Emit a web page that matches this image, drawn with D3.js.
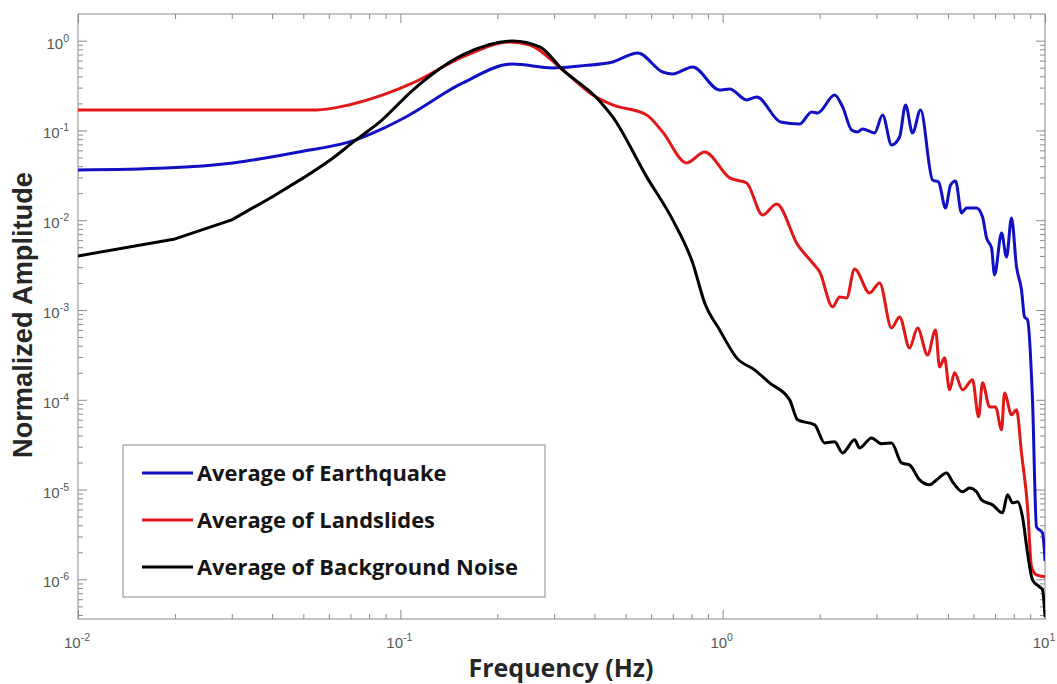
<!DOCTYPE html>
<html>
<head>
<meta charset="utf-8">
<script src="https://cdn.jsdelivr.net/npm/d3@7"></script>
<style>
  html, body { margin: 0; padding: 0; background: #fff; }
  svg { display: block; }
</style>
</head>
<body>
<svg id="chart" width="1057" height="684"></svg>
<script>
// Average normalized amplitude spectra (frequency in Hz, amplitude normalized)
const blueFreq = [0.01, 0.01875, 0.03024, 0.0484, 0.0728, 0.0864, 0.104, 0.1562, 0.2233, 0.2971, 0.3602, 0.4559, 0.545, 0.6516, 0.6998, 0.8072, 0.9788, 1.051, 1.187, 1.275, 1.513, 1.734, 1.888, 1.971, 2.225, 2.356, 2.512, 2.622, 2.718, 2.96, 3.134, 3.342, 3.539, 3.693, 3.882, 4.111, 4.479, 4.675, 4.914, 5.093, 5.278, 5.51, 5.71, 6.132, 6.401, 6.587, 6.826, 6.974, 7.331, 7.597, 7.873, 8.159, 8.455, 8.638, 8.826, 9.146, 9.41, 9.822, 10];
const blueAmp = [0.0363, 0.0382, 0.0435, 0.0576, 0.0784, 0.1013, 0.1413, 0.338, 0.55, 0.497, 0.523, 0.579, 0.73, 0.448, 0.426, 0.51, 0.282, 0.29, 0.2186, 0.236, 0.1244, 0.1181, 0.1607, 0.1566, 0.2485, 0.1827, 0.1013, 0.0962, 0.1039, 0.0938, 0.1488, 0.0689, 0.0846, 0.1923, 0.0938, 0.1691, 0.0281, 0.0267, 0.0137, 0.0247, 0.0274, 0.01206, 0.0137, 0.0137, 0.01088, 0.00635, 0.00491, 0.00246, 0.00722, 0.0039, 0.01061, 0.00302, 0.00167, 0.000838, 0.000776, 0.0000997, 0.00000384, 0.00000329, 0.00000165];

const redFreq = [0.01, 0.03, 0.0547, 0.0692, 0.0883, 0.1094, 0.1562, 0.2186, 0.2521, 0.3191, 0.3953, 0.4559, 0.5811, 0.6516, 0.7734, 0.8795, 1.051, 1.187, 1.33, 1.47, 1.709, 1.902, 1.999, 2.193, 2.306, 2.424, 2.566, 2.856, 3.068, 3.342, 3.539, 3.8, 4.024, 4.322, 4.575, 4.708, 4.879, 5.057, 5.24, 5.549, 5.96, 6.221, 6.401, 6.73, 7.024, 7.331, 7.489, 7.873, 8.159, 8.455, 8.826, 9.081, 9.41, 10];
const redAmp = [0.1691, 0.1691, 0.1691, 0.1923, 0.2485, 0.338, 0.658, 0.967, 0.896, 0.4719, 0.2485, 0.1923, 0.1488, 0.0962, 0.0435, 0.0576, 0.0296, 0.026, 0.01146, 0.01519, 0.00531, 0.00334, 0.00266, 0.001083, 0.001399, 0.001364, 0.00287, 0.00155, 0.002003, 0.000632, 0.000838, 0.000378, 0.000632, 0.000316, 0.0006, 0.000232, 0.000293, 0.0001289, 0.0001994, 0.0001289, 0.0001666, 0.0000645, 0.0001543, 0.0000833, 0.0000833, 0.0000462, 0.0001193, 0.0000679, 0.0000772, 0.0000256, 0.00000642, 0.00000138, 0.00000112, 0.000001066];

const blackFreq = [0.01, 0.02, 0.03, 0.04, 0.05, 0.0606, 0.0728, 0.0864, 0.1094, 0.1562, 0.2233, 0.2708, 0.3191, 0.4068, 0.4559, 0.5811, 0.6998, 0.8072, 0.8795, 0.9788, 1.105, 1.256, 1.398, 1.614, 1.709, 1.929, 2.072, 2.225, 2.356, 2.566, 2.66, 2.897, 3.112, 3.342, 3.589, 3.8, 4.082, 4.385, 4.608, 4.95, 5.166, 5.549, 5.834, 6.132, 6.355, 6.876, 7.383, 7.651, 7.929, 8.217, 8.515, 8.826, 9.146, 9.614, 9.822, 10];
const blackAmp = [0.004, 0.00619, 0.01008, 0.01817, 0.0296, 0.0468, 0.0784, 0.1244, 0.282, 0.693, 0.992, 0.851, 0.472, 0.2301, 0.1413, 0.0304, 0.01008, 0.00334, 0.001199, 0.0006, 0.000293, 0.000215, 0.0001543, 0.0000997, 0.0000597, 0.0000525, 0.0000331, 0.000034, 0.0000256, 0.0000358, 0.0000291, 0.0000376, 0.0000323, 0.0000331, 0.0000198, 0.0000188, 0.0000128, 0.0000113, 0.0000128, 0.0000153, 0.0000122, 0.00000943, 0.0000104, 0.00000943, 0.00000768, 0.00000675, 0.0000055, 0.00000873, 0.00000711, 0.00000729, 0.00000497, 0.00000197, 0.000000987, 0.000000825, 0.000000764, 0.000000392];

const seriesNames = ["Average of Earthquake", "Average of Landslides", "Average of Background Noise"];
const seriesColors = ["#1010c4", "#e01818", "#000000"];

const xTickExponents = [-2, -1, 0, 1];
const yTickExponents = [0, -1, -2, -3, -4, -5, -6];

const xTitle = "Frequency (Hz)";
const yTitle = "Normalized Amplitude";

// ---- layout ----
const svg = d3.select("#chart");
const plotLeft = 78, plotRight = 1045, plotTop = 14, plotBottom = 619;

const x = d3.scaleLog().domain([0.01, 10]).range([plotLeft, plotRight]);
const y = d3.scaleLog().domain([Math.pow(10, -6.442), Math.pow(10, 0.297)]).range([plotBottom, plotTop]);

const frameColor = "#8a8a8a";
const labelColor = "#555";

// minor/major tick values
const xMajor = xTickExponents.map(e => Math.pow(10, e));
const xMinor = [];
for (let e = -2; e < 1; e++) for (let m = 2; m <= 9; m++) xMinor.push(m * Math.pow(10, e));
const yMajor = yTickExponents.map(e => Math.pow(10, e));
const yMinor = [];
for (let e = -7; e <= 0; e++) for (let m = 2; m <= 9; m++) {
  const v = m * Math.pow(10, e);
  if (v >= y.domain()[0] && v <= y.domain()[1]) yMinor.push(v);
}

function styleAxis(g) {
  g.select(".domain").remove();
  g.selectAll(".tick line").attr("stroke", frameColor).attr("stroke-width", 1);
  g.selectAll(".tick text").remove();
}

// ticks pointing inward on all four sides
svg.append("g").attr("transform", `translate(0,${plotBottom})`)
  .call(d3.axisBottom(x).tickValues(xMinor).tickSize(-5).tickFormat("")).call(styleAxis);
svg.append("g").attr("transform", `translate(0,${plotBottom})`)
  .call(d3.axisBottom(x).tickValues(xMajor).tickSize(-9).tickFormat("")).call(styleAxis);
svg.append("g").attr("transform", `translate(0,${plotTop})`)
  .call(d3.axisTop(x).tickValues(xMinor).tickSize(-5).tickFormat("")).call(styleAxis);
svg.append("g").attr("transform", `translate(0,${plotTop})`)
  .call(d3.axisTop(x).tickValues(xMajor).tickSize(-9).tickFormat("")).call(styleAxis);
svg.append("g").attr("transform", `translate(${plotLeft},0)`)
  .call(d3.axisLeft(y).tickValues(yMinor).tickSize(-5).tickFormat("")).call(styleAxis);
svg.append("g").attr("transform", `translate(${plotLeft},0)`)
  .call(d3.axisLeft(y).tickValues(yMajor).tickSize(-9).tickFormat("")).call(styleAxis);
svg.append("g").attr("transform", `translate(${plotRight},0)`)
  .call(d3.axisRight(y).tickValues(yMinor).tickSize(-5).tickFormat("")).call(styleAxis);
svg.append("g").attr("transform", `translate(${plotRight},0)`)
  .call(d3.axisRight(y).tickValues(yMajor).tickSize(-9).tickFormat("")).call(styleAxis);

// frame
svg.append("rect")
  .attr("x", plotLeft).attr("y", plotTop)
  .attr("width", plotRight - plotLeft).attr("height", plotBottom - plotTop)
  .attr("fill", "none").attr("stroke", frameColor).attr("stroke-width", 1);

// power-of-ten tick labels
function powerLabel(sel, exp) {
  sel.append("tspan").text("10");
  sel.append("tspan").attr("dy", -7).attr("font-size", 10.5).text(exp < 0 ? "-" + (-exp) : String(exp));
}
xTickExponents.forEach(e => {
  const t = svg.append("text")
    .attr("x", x(Math.pow(10, e)) - 1).attr("y", plotBottom + 29)
    .attr("text-anchor", "middle")
    .attr("font-family", "Liberation Sans, Arial, sans-serif")
    .attr("font-size", 15).attr("fill", labelColor);
  powerLabel(t, e);
});
yTickExponents.forEach(e => {
  const t = svg.append("text")
    .attr("x", plotLeft - 9).attr("y", y(Math.pow(10, e)) + 8)
    .attr("text-anchor", "end")
    .attr("font-family", "Liberation Sans, Arial, sans-serif")
    .attr("font-size", 15).attr("fill", labelColor);
  powerLabel(t, e);
});

// scale a text's font size so that it spans the given width
function fitWidth(textSel, width) {
  const fs = parseFloat(textSel.attr("font-size"));
  const w = textSel.node().getComputedTextLength();
  if (w > 0) textSel.attr("font-size", fs * width / w);
}

// axis titles
const xTitleText = svg.append("text")
  .attr("x", 561).attr("y", 677)
  .attr("text-anchor", "middle")
  .attr("font-family", "Open Sans, sans-serif")
  .attr("font-weight", "bold").attr("font-size", 23).attr("fill", "#262626")
  .text(xTitle);
fitWidth(xTitleText, 185);

const yTitleText = svg.append("text")
  .attr("transform", `translate(32,315) rotate(-90)`)
  .attr("text-anchor", "middle")
  .attr("font-family", "Liberation Sans, Arial, sans-serif")
  .attr("font-weight", "bold").attr("font-size", 24).attr("fill", "#262626")
  .text(yTitle);
fitWidth(yTitleText, 286);

// curves
svg.append("clipPath").attr("id", "plot-clip")
  .append("rect").attr("x", plotLeft).attr("y", plotTop)
  .attr("width", plotRight - plotLeft).attr("height", plotBottom - plotTop);

const lineStraight = d3.line().x(d => x(d[0])).y(d => y(d[1])).curve(d3.curveLinear);
const lineSmooth = d3.line().x(d => x(d[0])).y(d => y(d[1])).curve(d3.curveMonotoneX);

// the noise spectrum's coarse low-frequency samples are joined straight
const series = [
  { freq: blueFreq, amp: blueAmp, linearUpTo: 0 },
  { freq: redFreq, amp: redAmp, linearUpTo: 0 },
  { freq: blackFreq, amp: blackAmp, linearUpTo: 0.05 }
];

const plot = svg.append("g").attr("clip-path", "url(#plot-clip)");
series.forEach((s, i) => {
  const pts = d3.zip(s.freq, s.amp);
  const k = Math.max(0, d3.bisector(d => d[0]).right(pts, s.linearUpTo) - 1);
  const low = pts.slice(0, k + 1);
  const high = pts.slice(k);
  [[low, lineStraight], [high, lineSmooth]].forEach(([part, gen]) => {
    if (part.length < 2) return;
    plot.append("path")
      .datum(part)
      .attr("fill", "none")
      .attr("stroke", seriesColors[i])
      .attr("stroke-width", 3)
      .attr("stroke-linejoin", "round")
      .attr("stroke-linecap", "round")
      .attr("d", gen);
  });
});

// legend
const legend = svg.append("g");
legend.append("rect")
  .attr("x", 123).attr("y", 445).attr("width", 422).attr("height", 152)
  .attr("fill", "#fff").attr("stroke", frameColor).attr("stroke-width", 1);
const legendTexts = [];
seriesNames.forEach((name, i) => {
  const ly = 473 + i * 47;
  legend.append("line")
    .attr("x1", 142).attr("x2", 193).attr("y1", ly).attr("y2", ly)
    .attr("stroke", seriesColors[i]).attr("stroke-width", 3);
  legendTexts.push(legend.append("text")
    .attr("x", 197).attr("y", ly + 8)
    .attr("font-family", "Open Sans, sans-serif")
    .attr("font-weight", "bold").attr("font-size", 21).attr("fill", "#151515")
    .text(name));
});
// size the legend text so the longest entry spans the box like the others
const longest = legendTexts[2];
const baseFs = parseFloat(longest.attr("font-size"));
const scaled = baseFs * 321 / longest.node().getComputedTextLength();
legendTexts.forEach(t => t.attr("font-size", scaled));
</script>
</body>
</html>
